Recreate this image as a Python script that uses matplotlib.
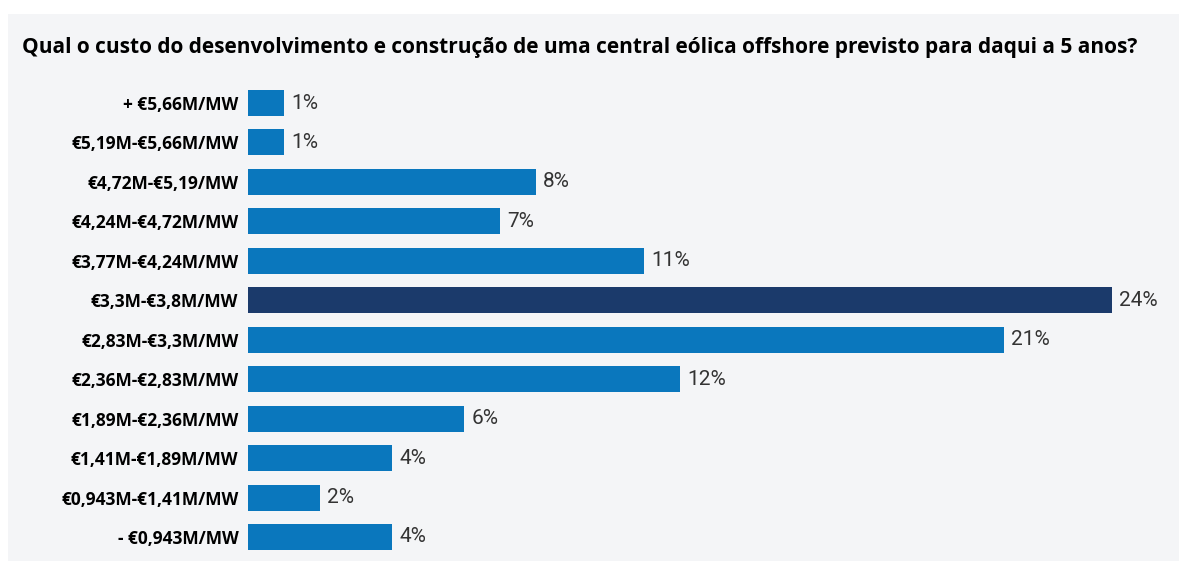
import matplotlib.pyplot as plt
from matplotlib.patches import Rectangle

# faixas de custo (de cima para baixo) e percentagem de respostas
categories = ['+ €5,66M/MW', '€5,19M-€5,66M/MW', '€4,72M-€5,19/MW', '€4,24M-€4,72M/MW',
              '€3,77M-€4,24M/MW', '€3,3M-€3,8M/MW', '€2,83M-€3,3M/MW', '€2,36M-€2,83M/MW',
              '€1,89M-€2,36M/MW', '€1,41M-€1,89M/MW', '€0,943M-€1,41M/MW', '- €0,943M/MW']
values = [1, 1, 8, 7, 11, 24, 21, 12, 6, 4, 2, 4]
highlight = '€3,3M-€3,8M/MW'

blue = '#0a77bd'
navy = '#1b3a6b'
panel = '#f4f5f7'

fig = plt.figure(figsize=(11.79, 5.61), dpi=100)
fig.patch.set_facecolor('white')
fig.patches.append(Rectangle((8 / 1179, 0), 1, 1 - 14 / 561, transform=fig.transFigure,
                             facecolor=panel, edgecolor='none', zorder=-10))

fig.text(22 / 1179, 1 - 48 / 561, 'Qual o custo do desenvolvimento e construção de uma central eólica offshore previsto para daqui a 5 anos?',
         fontsize=15, fontweight='bold', family='Open Sans', va='center', ha='left', color='black')

ax = fig.add_axes([248 / 1179, 1 - 556.7 / 561, 912 / 1179, (556.7 - 83.3) / 561])
ax.set_facecolor('none')
ax.set_zorder(5)

colors = [navy if c == highlight else blue for c in categories]
ypos = range(len(categories))
ax.barh(ypos, values, height=0.66, color=colors)

for y, v in zip(ypos, values):
    ax.text(v + 0.2, y, f'{v}%', va='center', ha='left', fontsize=15,
            family='Roboto', color='#333333')

ax.set_xlim(0, 912 / 36)
ax.set_ylim(len(categories) - 0.5, -0.5)
ax.set_yticks(list(ypos))
ax.set_yticklabels(categories, fontsize=12.5, fontweight='bold', family='Open Sans')
ax.tick_params(axis='y', length=0, pad=7)
ax.set_xticks([])
for s in ax.spines.values():
    s.set_visible(False)

fig.savefig('out.png', dpi=100)
